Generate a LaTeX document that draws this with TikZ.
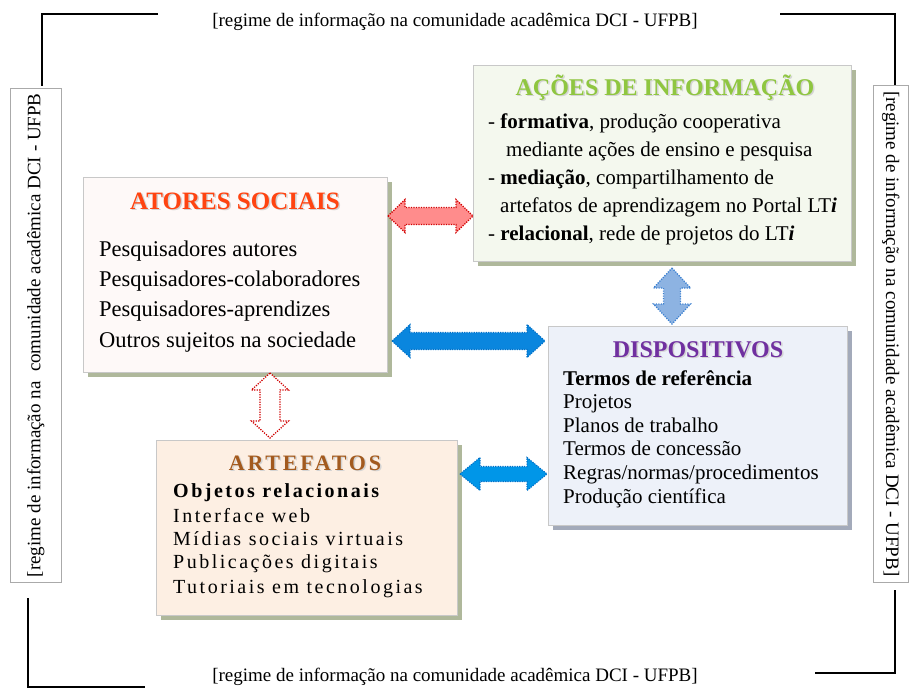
\documentclass[tikz,border=0pt]{standalone}
\usepackage{fontspec}
\setmainfont{Liberation Serif}
\newfontfamily\spacedfont[LetterSpace=12.5]{Liberation Serif}
\usetikzlibrary{calc,shadows}
\definecolor{atorestitle}{HTML}{FF4411}
\definecolor{acoestitle}{HTML}{8FC640}
\definecolor{disptitle}{HTML}{7030A0}
\definecolor{arteftitle}{HTML}{A35A1E}
\definecolor{atoresfill}{HTML}{FEF9F8}
\definecolor{acoesfill}{HTML}{F4F8EE}
\definecolor{dispfill}{HTML}{EDF1F9}
\definecolor{arteffill}{HTML}{FDEFE3}
\definecolor{shgreen}{HTML}{AFB89B}
\definecolor{shblue}{HTML}{A3AABA}
\definecolor{boxline}{HTML}{C8C8C8}
\definecolor{redfill}{HTML}{FF8C8C}
\definecolor{reddot}{HTML}{D00000}
\definecolor{lbluefill}{HTML}{8DB3E2}
\definecolor{lbluedot}{HTML}{3A7FD0}
\definecolor{bigblue}{HTML}{0A86DE}
\definecolor{bigbluedot}{HTML}{0070C8}
\definecolor{lowblue}{HTML}{0096E8}
\definecolor{sidebox}{HTML}{AAAAAA}
\definecolor{glow}{HTML}{D4D4D4}
\newcommand{\hdarrow}[6]{% style, left tip, right tip, shaft half, head half, head length
  \draw[#1] (#2) -- ($(#2)+(#6,#5)$) -- ($(#2)+(#6,#4)$) -- ($(#3)+(-#6,#4)$) -- ($(#3)+(-#6,#5)$) -- (#3)
    -- ($(#3)+(-#6,-#5)$) -- ($(#3)+(-#6,-#4)$) -- ($(#2)+(#6,-#4)$) -- ($(#2)+(#6,-#5)$) -- cycle;}
\newcommand{\vdarrow}[6]{% style, top tip, bottom tip, shaft half, head half, head length
  \draw[#1] (#2) -- ($(#2)+(#5,#6)$) -- ($(#2)+(#4,#6)$) -- ($(#3)+(#4,-#6)$) -- ($(#3)+(#5,-#6)$) -- (#3)
    -- ($(#3)+(-#5,-#6)$) -- ($(#3)+(-#4,-#6)$) -- ($(#2)+(-#4,#6)$) -- ($(#2)+(-#5,#6)$) -- cycle;}
\begin{document}
\begin{tikzpicture}[x=1pt,y=-1pt,
  bigbox/.style={draw=boxline, line width=0.6pt, inner sep=0pt, outer sep=0pt, anchor=north west},
  shgr/.style={drop shadow={shadow xshift=5pt, shadow yshift=-5pt, fill=shgreen, opacity=1}},
  shbl/.style={drop shadow={shadow xshift=5pt, shadow yshift=-5pt, fill=shblue, opacity=1}},
  bracket/.style={line width=1.3pt, black},
  sidetext/.style={draw=sidebox, line width=0.6pt, fill=white, inner sep=0pt, anchor=north west},
  frametext/.style={font=\fontsize{19}{22}\selectfont},
  ttl/.style={anchor=base, inner sep=0pt, font=\fontsize{24}{28}\selectfont\bfseries},
  glowtxt/.style={text=glow, xshift=1.5pt, yshift=-1.5pt},
  lineA/.style={anchor=base west, inner sep=0pt, font=\fontsize{22.5}{27}\selectfont},
  lineB/.style={anchor=base west, inner sep=0pt, font=\fontsize{21}{25}\selectfont},
  lineC/.style={anchor=base west, inner sep=0pt, font=\fontsize{21}{25}\selectfont},
  lineD/.style={anchor=base west, inner sep=0pt, font=\fontsize{20}{24}\selectfont\spacedfont},
  dotred/.style={draw=reddot, line width=1.3pt, dash pattern=on 1.2pt off 1.3pt},
  dotblue/.style={draw=lbluedot, line width=1.3pt, dash pattern=on 1.2pt off 1.3pt},
  dotbig/.style={draw=bigbluedot, line width=1.1pt, dash pattern=on 1.2pt off 1.2pt}
]
\useasboundingbox (0,0) rectangle (910,689);

% frame brackets and frame texts
\draw[bracket] (158,14) -- (42,14) -- (42,86);
\draw[bracket] (780,14) -- (895,14) -- (895,85);
\draw[bracket] (28,598) -- (28,687) -- (145,687);
\draw[bracket] (895,590) -- (895,673) -- (815,673);
\node[frametext] (toptext) at (455,22) {[regime de informação na comunidade acadêmica DCI - UFPB]};
\node[frametext] (bottext) at (455,677) {[regime de informação na comunidade acadêmica DCI - UFPB]};
\node[sidetext, minimum width=51pt, minimum height=494pt] (leftbox) at (10,88) {};
\node[frametext, rotate=90] (lefttext) at (leftbox.center) {[regime de informação na\ \ comunidade acadêmica DCI - UFPB};
\node[sidetext, minimum width=35pt, minimum height=497pt] (rightbox) at (873,85) {};
\node[frametext, rotate=-90] (righttext) at (rightbox.center) {[regime de informação na comunidade acadêmica DCI - UFPB]};

% boxes
\node[bigbox, shgr, fill=atoresfill, minimum width=304pt, minimum height=195pt] (atores) at (83,177) {};
\node[bigbox, shgr, fill=acoesfill, minimum width=378pt, minimum height=196pt] (acoes) at (473,65) {};
\node[bigbox, shbl, fill=dispfill, minimum width=299pt, minimum height=199pt] (disp) at (548,326) {};
\node[bigbox, shgr, fill=arteffill, minimum width=301pt, minimum height=175pt] (artef) at (156,440) {};

% ATORES SOCIAIS
\node[ttl, glowtxt, font=\fontsize{25}{28}\selectfont\bfseries] (atoresG) at (235,209) {ATORES SOCIAIS};
\node[ttl, text=atorestitle, font=\fontsize{25}{28}\selectfont\bfseries] (atoresT) at (235,209) {ATORES SOCIAIS};
\node[lineA] (a1) at (99,256) {Pesquisadores autores};
\node[lineA] (a2) at (99,286.3) {Pesquisadores-colaboradores};
\node[lineA] (a3) at (99,316.7) {Pesquisadores-aprendizes};
\node[lineA] (a4) at (99,347) {Outros sujeitos na sociedade};

% ACOES DE INFORMACAO
\node[ttl, glowtxt] (acoesG) at (665,95) {AÇÕES DE INFORMAÇÃO};
\node[ttl, text=acoestitle] (acoesT) at (665,95) {AÇÕES DE INFORMAÇÃO};
\node[lineB] (b1) at (488,128) {- \textbf{formativa}, produção cooperativa};
\node[lineB] (b2) at (506,156) {mediante ações de ensino e pesquisa};
\node[lineB] (b3) at (488,184) {- \textbf{mediação}, compartilhamento de};
\node[lineB] (b4) at (500,212) {artefatos de aprendizagem no Portal LT\textbf{\textit{i}}};
\node[lineB] (b5) at (488,240) {- \textbf{relacional}, rede de projetos do LT\textbf{\textit{i}}};

% DISPOSITIVOS
\node[ttl, glowtxt] (dispG) at (698,357) {DISPOSITIVOS};
\node[ttl, text=disptitle] (dispT) at (698,357) {DISPOSITIVOS};
\node[lineC, font=\fontsize{21}{25}\selectfont\bfseries] (c1) at (563,385) {Termos de referência};
\node[lineC] (c2) at (563,408) {Projetos};
\node[lineC] (c3) at (563,432) {Planos de trabalho};
\node[lineC] (c4) at (563,455) {Termos de concessão};
\node[lineC] (c5) at (563,479) {Regras/normas/procedimentos};
\node[lineC] (c6) at (563,503) {Produção científica};

% ARTEFATOS
\node[ttl, glowtxt, font=\fontsize{22}{26}\selectfont\spacedfont\bfseries] (artefG) at (305,470) {ARTEFATOS};
\node[ttl, text=arteftitle, font=\fontsize{22}{26}\selectfont\spacedfont\bfseries] (artefT) at (305,470) {ARTEFATOS};
\node[lineD, font=\fontsize{20}{24}\selectfont\spacedfont\bfseries] (d1) at (173,497) {Objetos relacionais};
\node[lineD] (d2) at (173,522) {Interface web};
\node[lineD] (d3) at (173,545) {Mídias sociais virtuais};
\node[lineD] (d4) at (173,568) {Publicações digitais};
\node[lineD] (d5) at (173,593) {Tutoriais em tecnologias};

% connector coordinates
\path (0,216) coordinate (yRed) (0,341) coordinate (yBig) (0,474) coordinate (yLow);
\coordinate (rL) at ($(atores.east |- yRed)+(1,0)$);
\coordinate (rR) at (acoes.west |- yRed);
\coordinate (bT) at ($(acoes.south)+(10,7)$);
\coordinate (bB) at ($(bT |- disp.north)+(0,-2)$);
\coordinate (gL) at ($(atores.east |- yBig)+(5,0)$);
\coordinate (gR) at ($(disp.west |- yBig)+(-3,0)$);
\coordinate (vT) at ($(atores.south)+(35,1)$);
\coordinate (vB) at ($(vT |- artef.north)+(0,-2)$);
\coordinate (lL) at ($(artef.east |- yLow)+(3,0)$);
\coordinate (lR) at ($(disp.west |- yLow)+(-1,0)$);

% connectors (block double arrows)
\hdarrow{fill=redfill, dotred}{rL}{rR}{8.5}{16.5}{17}
\vdarrow{fill=lbluefill, dotblue}{bT}{bB}{8.5}{18.5}{20}
\hdarrow{fill=bigblue, dotbig}{gL}{gR}{8.5}{16.5}{18}
\vdarrow{fill=white, dotred}{vT}{vB}{10}{18.5}{17}
\hdarrow{fill=lowblue, dotbig}{lL}{lR}{7.5}{16.5}{20}
\end{tikzpicture}
\end{document}
